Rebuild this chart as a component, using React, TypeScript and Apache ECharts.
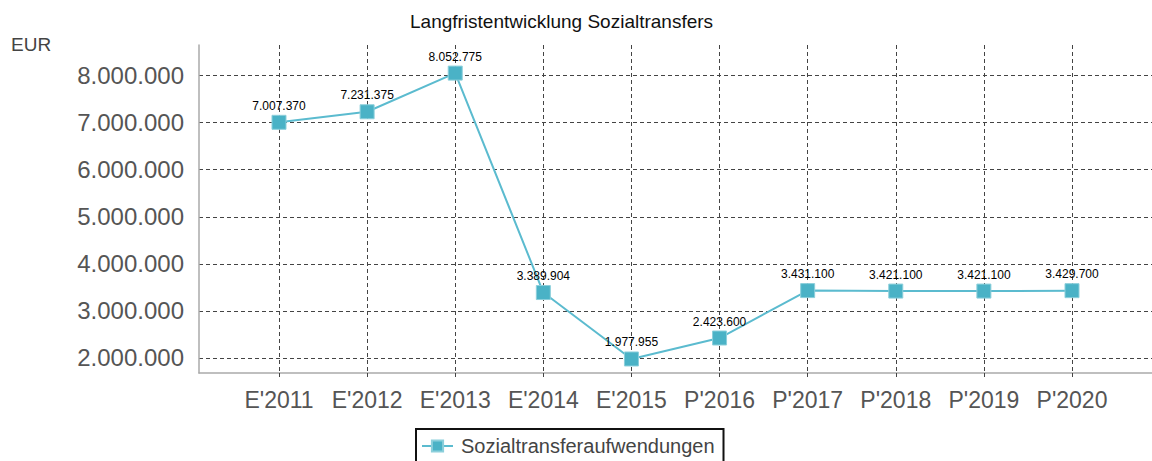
import { useEffect, useRef } from "react";
import * as echarts from "echarts";

const categories = ["E'2011", "E'2012", "E'2013", "E'2014", "E'2015", "P'2016", "P'2017", "P'2018", "P'2019", "P'2020"];
const values = [7007370, 7231375, 8052775, 3389904, 1977955, 2423600, 3431100, 3421100, 3421100, 3429700];
const seriesName = "Sozialtransferaufwendungen";
const titleText = "Langfristentwicklung Sozialtransfers";
const unitText = "EUR";
const yMin = 1680000;
const yMax = 8650000;

function fmtDE(v: number): string {
  return Math.round(v).toString().replace(/\B(?=(\d{3})+(?!\d))/g, ".");
}

export default function App() {
  const ref = useRef<HTMLDivElement>(null);
  useEffect(() => {
    const chart = echarts.init(ref.current!, null, { renderer: "svg" });
    const font = "'Liberation Sans', Arial, sans-serif";
    const dash = { color: "#444", width: 1, type: [4, 3] };
    chart.setOption({
      animation: false,
      backgroundColor: "#fff",
      title: [
        {
          text: titleText,
          left: 410,
          top: 12,
          padding: 0,
          textStyle: { fontFamily: font, fontSize: 19, fontWeight: "normal", color: "#111" },
        },
        {
          text: unitText,
          left: 11,
          top: 35,
          padding: 0,
          textStyle: { fontFamily: font, fontSize: 19, fontWeight: "normal", color: "#444" },
        },
      ],
      grid: [
        { left: 199, right: 0, top: 45, bottom: 88 },
        { left: 279, right: 80, top: 45, bottom: 88 },
      ],
      xAxis: [
        {
          gridIndex: 0,
          type: "value",
          min: 0,
          max: 1,
          axisLine: { show: true, lineStyle: { color: "#aaa", width: 1.5 } },
          axisTick: { show: false },
          axisLabel: { show: false },
          splitLine: { show: false },
        },
        {
          gridIndex: 1,
          type: "category",
          data: categories,
          boundaryGap: false,
          axisLine: { show: false },
          axisTick: { show: true, interval: 0, length: 5, lineStyle: dash },
          axisLabel: { interval: 0, margin: 15, fontFamily: font, fontSize: 23, color: "#555", hideOverlap: false },
          splitLine: { show: true, interval: 0, lineStyle: dash },
        },
      ],
      yAxis: [
        {
          gridIndex: 0,
          type: "value",
          min: yMin,
          max: yMax,
          axisLine: { show: true, lineStyle: { color: "#aaa", width: 1.5 } },
          axisTick: { show: false },
          axisLabel: {
            formatter: fmtDE,
            showMinLabel: false,
            showMaxLabel: false,
            margin: 15,
            fontFamily: font,
            fontSize: 24,
            color: "#555",
          },
          splitLine: { show: true, showMinLine: false, showMaxLine: false, lineStyle: dash },
        },
        { gridIndex: 1, type: "value", min: yMin, max: yMax, show: false },
      ],
      legend: {
        left: 416,
        top: 429,
        padding: [7, 9, 6, 5],
        borderColor: "#111",
        borderWidth: 2,
        backgroundColor: "#fff",
        itemWidth: 31,
        itemHeight: 14,
        textStyle: { fontFamily: font, fontSize: 20, color: "#444", padding: [0, 0, 0, 3] },
        data: [seriesName],
      },
      series: [
        {
          type: "line",
          name: seriesName,
          xAxisIndex: 1,
          yAxisIndex: 1,
          data: values,
          symbol: "rect",
          symbolSize: 14,
          lineStyle: { color: "#5bbbcf", width: 2 },
          itemStyle: { color: "#4ab2c6", borderColor: "#8ccfdb", borderWidth: 1 },
          label: {
            show: true,
            position: "top",
            distance: 3,
            formatter: (p: any) => fmtDE(p.value),
            fontFamily: font,
            fontSize: 12,
            color: "#000",
          },
        },
      ],
    });
    return () => chart.dispose();
  }, []);
  return <div ref={ref} style={{ position: "fixed", left: 0, top: 0, width: 1152, height: 461 }} />;
}
